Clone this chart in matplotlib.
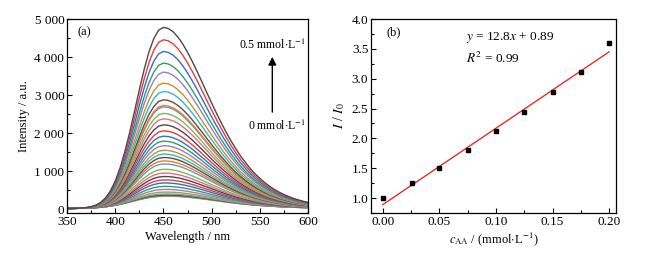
import matplotlib
matplotlib.use("Agg")
import matplotlib.pyplot as plt
import numpy as np
from matplotlib.ticker import MultipleLocator, FuncFormatter

plt.rcParams["font.family"] = ["Liberation Serif", "DejaVu Serif"]
plt.rcParams["mathtext.fontset"] = "stix"
plt.rcParams["font.size"] = 9.5

# ---- panel (a): emission spectra ----
wavelength = list(range(350, 601, 5))

# blank spectrum (0 mmol/L), intensity in a.u.
blank = [20, 22, 24, 27, 30, 35, 42, 52, 65, 82, 103, 128, 157, 188, 220, 252,
         280, 304, 322, 334, 340, 342, 340, 335, 327, 316, 303, 289, 273, 257,
         240, 223, 206, 190, 174, 159, 145, 132, 120, 109, 99, 90, 82, 75, 68,
         62, 57, 52, 48, 44, 41]

# normalised shape of the added emission
shape = [0.0, 0.0001, 0.0004, 0.0012, 0.003, 0.007, 0.0149, 0.0292, 0.0532,
         0.0904, 0.144, 0.217, 0.307, 0.414, 0.531, 0.651, 0.765, 0.863, 0.938,
         0.985, 1.0, 0.993, 0.974, 0.944, 0.905, 0.858, 0.806, 0.750, 0.692,
         0.633, 0.575, 0.519, 0.465, 0.414, 0.367, 0.323, 0.283, 0.248, 0.215,
         0.186, 0.161, 0.138, 0.118, 0.101, 0.0861, 0.0732, 0.0621, 0.0526,
         0.0444, 0.0374, 0.0315]

# peak intensity of each curve, top to bottom
peaks = [4780, 4455, 4148, 3841, 3605, 3315, 3096, 2876, 2727, 2690, 2520,
         2376, 2218, 2060, 1920, 1790, 1670, 1550, 1450, 1360, 1270, 1190,
         1050, 950, 860, 770, 690, 600, 520, 450, 400, 370, 350, 340]

colors = ["#4a4a4a", "#ee3a35", "#2f6fd3", "#3a9b62", "#9a7ccc", "#c8922a",
          "#2cbcc8", "#6a4740", "#f27a22", "#5b9bd5", "#7cba55", "#e86b8a"]

# ---- panel (b): calibration ----
c_aa = [0.0, 0.026, 0.05, 0.075, 0.10, 0.125, 0.15, 0.175, 0.20]
ratio = [0.995, 1.25, 1.51, 1.80, 2.12, 2.44, 2.77, 3.11, 3.60]
slope = 12.8
intercept = 0.89

fig = plt.figure(figsize=(6.58, 2.57), dpi=100)
ax1 = fig.add_axes([0.102, 0.171, 0.366, 0.755])
ax2 = fig.add_axes([0.564, 0.171, 0.372, 0.755])

wl = np.array(wavelength)
bl = np.array(blank, dtype=float)
sh = np.array(shape)
for i, p in reversed(list(enumerate(peaks))):
    y = bl + (p - blank[20]) * sh
    ax1.plot(wl, y, color=colors[i % len(colors)], lw=1.0)

ax1.set_xlim(350, 600)
ax1.set_ylim(-100, 5000)
ax1.xaxis.set_major_locator(MultipleLocator(50))
ax1.xaxis.set_minor_locator(MultipleLocator(25))
ax1.yaxis.set_major_locator(MultipleLocator(1000))
ax1.yaxis.set_minor_locator(MultipleLocator(500))
ax1.yaxis.set_major_formatter(FuncFormatter(
    lambda v, pos: "0" if v == 0 else f"{int(v):,}".replace(",", " ")))
ax1.set_xlabel("Wavelength / nm", labelpad=2, fontsize=9)
ax1.set_ylabel("Intensity / a.u.", labelpad=3, fontsize=9)
ax1.text(361, 4640, "(a)", ha="left", va="center", fontsize=9)
ax1.annotate("", xy=(563, 4080), xytext=(563, 2480),
             arrowprops=dict(arrowstyle="-|>", color="black", lw=1.0,
                             mutation_scale=12))
ax1.text(598, 4330, r"0.5 mmol$\cdot$L$^{-1}$", ha="right", va="center", fontsize=8.5)
ax1.text(598, 2190, r"0 mmol$\cdot$L$^{-1}$", ha="right", va="center", fontsize=8.5)

ax2.plot(c_aa, ratio, "s", color="black", ms=3.5, zorder=3)
xfit = np.array([c_aa[0], c_aa[-1]])
ax2.plot(xfit, slope * xfit + intercept, color="#ee2a24", lw=1.0)
ax2.set_xlim(-0.0103, 0.206)
ax2.set_ylim(0.75, 4.0)
ax2.xaxis.set_major_locator(MultipleLocator(0.05))
ax2.xaxis.set_minor_locator(MultipleLocator(0.025))
ax2.yaxis.set_major_locator(MultipleLocator(0.5))
ax2.yaxis.set_minor_locator(MultipleLocator(0.25))
ax2.xaxis.set_major_formatter(FuncFormatter(lambda v, pos: f"{v:.2f}"))
ax2.yaxis.set_major_formatter(FuncFormatter(lambda v, pos: f"{v:.1f}"))
ax2.set_xlabel(r"$c_{\mathrm{AA}}$ / (mmol$\cdot$L$^{-1}$)", labelpad=2, fontsize=9)
ax2.set_ylabel(r"$I$ / $I_{\mathrm{0}}$", labelpad=3, fontsize=10)
ax2.text(0.0035, 3.78, "(b)", ha="left", va="center", fontsize=9)
ax2.text(0.0735, 3.69, r"$y$ = 12.8$x$ + 0.89", ha="left", va="center", fontsize=9.5)
ax2.text(0.0735, 3.34, r"$R^2$ = 0.99", ha="left", va="center", fontsize=9.5)

for ax in (ax1, ax2):
    ax.tick_params(which="both", direction="in", top=False, right=False)
    ax.tick_params(which="major", length=3.5, width=0.8, pad=2)
    ax.tick_params(which="minor", length=2, width=0.8)
    for s in ax.spines.values():
        s.set_linewidth(0.9)

fig.savefig("out.png", dpi=100)
